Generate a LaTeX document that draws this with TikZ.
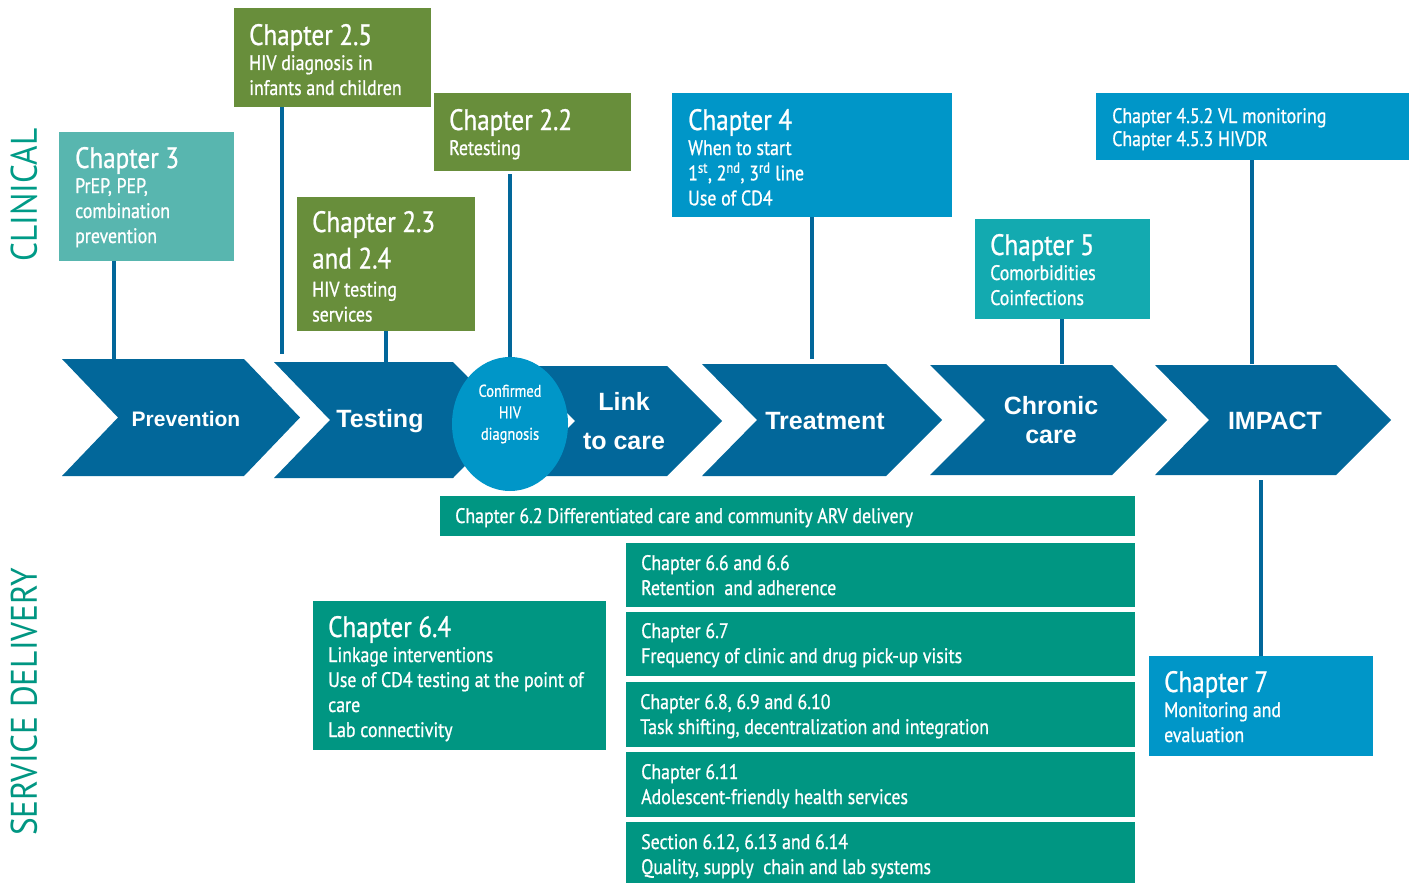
\documentclass[tikz,border=0pt]{standalone}
\usepackage{fontspec}
\setmainfont{PT Sans}
\newfontfamily\cf[FakeStretch=0.85,FakeBold=0.8]{PT Sans}
\newfontfamily\sidef[FakeStretch=0.9]{PT Sans}
\newfontfamily\af{Liberation Sans}
\usetikzlibrary{fit,shapes.geometric}
\definecolor{chev}{RGB}{2,103,154}
\definecolor{bblue}{RGB}{0,150,200}
\definecolor{olive}{RGB}{104,142,59}
\definecolor{lteal}{RGB}{88,182,175}
\definecolor{teal5}{RGB}{19,170,176}
\definecolor{sgreen}{RGB}{0,150,130}
\definecolor{sidecol}{RGB}{0,155,135}
\newcommand\hd{\cf\fontsize{29.5}{25}\selectfont}
\newcommand\bd{\cf\fontsize{21}{25}\selectfont}
\newcommand\chv[7]{% ytop ybot xleft xnotch xright xtip ;  #7 unused
  \fill[chev] (#3,#1) -- (#5,#1) -- (#6,{(#1+#2)/2}) -- (#5,#2) -- (#3,#2) -- (#4,{(#1+#2)/2}) -- cycle;}
\tikzset{
  box/.style={fill=#1, inner sep=0pt, draw=none},
  txt/.style={anchor=base west, inner sep=0pt, text=white, font=\bd},
  conn/.style={draw=chev, line width=4pt},
  chevtxt/.style={text=white, font=\af\bfseries\fontsize{25}{29}\selectfont, align=center, inner sep=0pt},
  side/.style={text=sidecol, font=\sidef\fontsize{37}{40}\selectfont, rotate=90, inner sep=0pt},
}
\begin{document}
\begin{tikzpicture}[x=1pt,y=-1pt]
\useasboundingbox (0,0) rectangle (1415,883);

% ---------- side labels
\node[side] (clin) at (24,195) {CLINICAL};
\node[side, text=sgreen] (serv) at (24,702) {SERVICE DELIVERY};

% ---------- chevrons
\chv{359}{476}{62}{118}{244}{300}{}
\chv{362}{478}{274}{330}{453}{510}{}
\chv{366}{476}{520}{575}{667}{722}{}
\chv{364}{476}{702}{757}{886}{942}{}
\chv{365}{475}{930}{985}{1112}{1167}{}
\chv{365}{475}{1155}{1209}{1336}{1391}{}

\node[chevtxt, font=\af\bfseries\fontsize{21}{25}\selectfont] (prev) at (186,419) {Prevention};
\node[chevtxt] (test) at (380,421) {Testing};
\node[chevtxt] (link) at (624,421) {Link\\[10pt]to care};
\node[chevtxt] (treat) at (825,421) {Treatment};
\node[chevtxt] (chron) at (1051,420) {Chronic\\care};
\node[chevtxt] (impact) at (1275,421) {IMPACT};

% circle
\node[ellipse, fill=bblue, minimum width=116pt, minimum height=134pt, inner sep=0pt] (conf) at (510,424) {};
\node[text=white, font=\cf\fontsize{17}{21.5}\selectfont, align=center, inner sep=0pt] (conft) at (510,414) {Confirmed\\HIV\\diagnosis};

% ---------- clinical boxes
\node[box=lteal, fit={(59,132) (234,261)}] (c3) {};
\node[txt] (t3) at (75,168) {\begin{tabular}[t]{@{}l@{}}{\hd Chapter 3}\\PrEP, PEP,\\combination\\prevention\end{tabular}};

\node[box=olive, fit={(234,8) (431,107)}] (c25) {};
\node[txt] (t25) at (249,45) {\begin{tabular}[t]{@{}l@{}}{\hd Chapter 2.5}\\HIV diagnosis in\\infants and children\end{tabular}};

\node[box=olive, fit={(297,197) (475,331)}] (c23) {};
\node[txt] (t23) at (312,232) {\begin{tabular}[t]{@{}l@{}}{\hd Chapter 2.3}\\[8pt]{\hd and 2.4}\\[3pt]HIV testing\\services\end{tabular}};

\node[box=olive, fit={(434,93) (631,171)}] (c22) {};
\node[txt] (t22) at (449,130) {\begin{tabular}[t]{@{}l@{}}{\hd Chapter 2.2}\\Retesting\end{tabular}};

\node[box=bblue, fit={(672,93) (952,217)}] (c4) {};
\node[txt] (t4) at (688,130) {\begin{tabular}[t]{@{}l@{}}{\hd Chapter 4}\\When to start\\1\textsuperscript{st}, 2\textsuperscript{nd}, 3\textsuperscript{rd} line\\Use of CD4\end{tabular}};

\node[box=teal5, fit={(975,219) (1150,319)}] (c5) {};
\node[txt] (t5) at (990,255) {\begin{tabular}[t]{@{}l@{}}{\hd Chapter 5}\\Comorbidities\\Coinfections\end{tabular}};

\node[box=bblue, fit={(1096,93) (1409,160)}] (c452) {};
\node[txt, font=\cf\fontsize{21}{23}\selectfont] (t452) at (1112,123) {\begin{tabular}[t]{@{}l@{}}Chapter 4.5.2 VL monitoring\\Chapter 4.5.3 HIVDR\end{tabular}};

% ---------- service delivery boxes
\node[box=bblue, fit={(1149,656) (1373,756)}] (c7) {};
\node[txt] (t7) at (1164,692) {\begin{tabular}[t]{@{}l@{}}{\hd Chapter 7}\\Monitoring and\\evaluation\end{tabular}};

\node[box=sgreen, fit={(313,601) (606,750)}] (c64) {};
\node[txt] (t64) at (328,637) {\begin{tabular}[t]{@{}l@{}}{\hd Chapter 6.4}\\Linkage interventions\\Use of CD4 testing at the point of\\care\\Lab connectivity\end{tabular}};

\node[box=sgreen, fit={(440,496) (1135,536)}] (c62) {};
\node[txt] (t62) at (455,523) {Chapter 6.2 Differentiated care and community ARV delivery};

\node[box=sgreen, fit={(626,543) (1135,607)}] (c66) {};
\node[txt] (t66) at (641,570) {\begin{tabular}[t]{@{}l@{}}Chapter 6.6 and 6.6\\Retention\ \ and adherence\end{tabular}};

\node[box=sgreen, fit={(626,612) (1135,676)}] (c67) {};
\node[txt] (t67) at (641,638) {\begin{tabular}[t]{@{}l@{}}Chapter 6.7\\Frequency of clinic and drug pick-up visits\end{tabular}};

\node[box=sgreen, fit={(626,682) (1135,747)}] (c68) {};
\node[txt] (t68) at (640,709) {\begin{tabular}[t]{@{}l@{}}Chapter 6.8, 6.9 and 6.10\\Task shifting, decentralization and integration\end{tabular}};

\node[box=sgreen, fit={(626,752) (1135,817)}] (c611) {};
\node[txt] (t611) at (641,779) {\begin{tabular}[t]{@{}l@{}}Chapter 6.11\\Adolescent-friendly health services\end{tabular}};

\node[box=sgreen, fit={(626,822) (1135,883)}] (c612) {};
\node[txt] (t612) at (641,849) {\begin{tabular}[t]{@{}l@{}}Section 6.12, 6.13 and 6.14\\Quality, supply\ \ chain and lab systems\end{tabular}};

% ---------- connectors
\coordinate (e3) at (114,359);
\coordinate (e25) at (282,354);
\coordinate (e23) at (386,362);
\coordinate (e4) at (812,359);
\coordinate (e5) at (1062,364);
\coordinate (e452) at (1252,364);
\coordinate (e7) at (1261,480);
\draw[conn] (c3.south -| e3) -- (e3);
\draw[conn] (c25.south -| e25) -- (e25);
\draw[conn] (c23.south -| e23) -- (e23);
\draw[conn] ([yshift=-3pt]c22.south -| conf.north) -- (conf.north);
\draw[conn] (c4.south -| e4) -- (e4);
\draw[conn] (c5.south -| e5) -- (e5);
\draw[conn] (c452.south -| e452) -- (e452);
\draw[conn] (e7) -- (c7.north -| e7);
\end{tikzpicture}
\end{document}
